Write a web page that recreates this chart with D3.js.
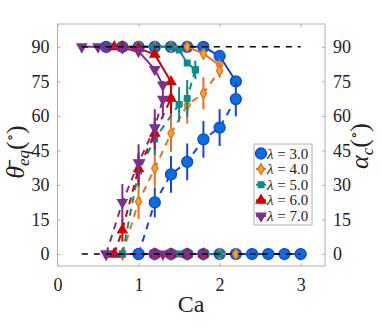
<!DOCTYPE html>
<html>
<head>
  <meta charset="utf-8" />
  <style>
    body { margin: 0; background: #ffffff; }
    svg text { font-family: 'Liberation Serif', 'DejaVu Serif', serif; fill: #222; }
  </style>
  <script src="https://cdnjs.cloudflare.com/ajax/libs/d3/7.8.5/d3.min.js"></script>
</head>
<body>
<div id="chart"></div>
<script>
// lambda values
var lambdas = ["3.0", "4.0", "5.0", "6.0", "7.0"];

// upper theta_eq branch (solid)
var upCa = [
  [0.6, 0.8, 1.0, 1.2, 1.4, 1.6, 1.8, 2.0, 2.2],
  [0.8, 1.0, 1.2, 1.4, 1.6, 1.8, 2.0],
  [0.8, 1.0, 1.2, 1.4, 1.5, 1.6, 1.7],
  [0.7, 0.8, 1.0, 1.2, 1.4],
  [0.3, 0.5, 0.6, 0.8, 1.0, 1.2, 1.3]
];
var upTheta = [
  [90, 90, 90, 90, 90, 90, 90, 86, 75],
  [90, 90, 90, 90, 90, 87, 82],
  [90, 90, 90, 90, 88.6, 83, 80],
  [90, 90, 89.3, 86.7, 74.8],
  [90, 90, 90, 89.5, 88, 80.2, 73.4]
];

// lower theta_eq branch (solid, at zero)
var lowCa = [
  [1.0, 1.2, 1.4, 1.6, 1.8, 2.0, 2.2, 2.4, 2.6, 2.8, 3.0],
  [0.8, 1.2, 1.4, 1.6, 1.8, 2.0, 2.2],
  [0.8, 1.2, 1.4, 1.5, 1.6, 1.8, 2.0],
  [0.7, 1.2, 1.4, 1.6, 1.8],
  [0.6, 1.2, 1.3, 1.4, 1.6, 1.8]
];

// alpha_c (dashed) with error
var acCa = [
  [1.0, 1.2, 1.4, 1.6, 1.8, 2.0, 2.2],
  [0.8, 1.0, 1.2, 1.4, 1.6, 1.8, 2.0],
  [0.8, 1.0, 1.2, 1.5, 1.6, 1.7],
  [0.7, 0.8, 1.0, 1.2, 1.4],
  [0.6, 0.8, 1.0, 1.2, 1.3]
];
var acAlpha = [
  [0, 22.4, 34.6, 40, 49.8, 54.9, 67.3],
  [0, 22.7, 37.2, 52.4, 64.7, 69.8, 79.6],
  [0, 36, 50, 65, 67.6, 80],
  [0, 10.4, 37, 52.4, 67.6],
  [0, 22.4, 39.7, 54.9, 67.2]
];
var acErr = [
  [0, 6.5, 8, 8, 8, 8, 7.5],
  [0, 7.5, 8, 8, 8, 7, 3],
  [0, 7, 7, 7.5, 8, 4],
  [0, 5, 7, 7, 7],
  [0, 8, 8, 8, 8]
];

var xTicks = [0, 1, 2, 3];
var yTicks = [0, 15, 30, 45, 60, 75, 90];

var lineColor = ["#1346d6", "#e8701e", "#0a8c8c", "#d40000", "#7e2f8e"];
var fillColor = ["#0a6fd8", "#f2a623", "#0a8c8c", "#d40000", "#7e2f8e"];
var shapes = [d3.symbolCircle, d3.symbolDiamond, d3.symbolSquare, d3.symbolTriangle, d3.symbolTriangle];
var sizes = [95, 34, 32, 40, 40];
var rotations = [0, 0, 0, 0, 180];

var W = 382, H = 327;
var pL = 57.5, pR = 325, pT = 24, pB = 266;

var svg = d3.select("#chart").append("svg").attr("width", W).attr("height", H);

var x = d3.scaleLinear().domain([0, 3.3]).range([pL, pR]);
var y = d3.scaleLinear().domain([-5.2, 99.9]).range([pB, pT]);

// axes box
svg.append("rect").attr("x", pL).attr("y", pT).attr("width", pR - pL).attr("height", pB - pT)
  .attr("fill", "none").attr("stroke", "#b0b0b0").attr("stroke-width", 1);

var axisCol = "#b0b0b0";
function styleAxis(g) {
  g.select(".domain").remove();
  g.selectAll(".tick line").attr("stroke", axisCol);
  g.selectAll(".tick text").style("font-size", "18px").attr("fill", "#222");
}
svg.append("g").attr("transform", "translate(0," + pB + ")")
  .call(d3.axisBottom(x).tickValues(xTicks).tickSize(-3).tickPadding(12).tickFormat(d3.format("d"))).call(styleAxis);
svg.append("g").attr("transform", "translate(0," + pT + ")")
  .call(d3.axisTop(x).tickValues(xTicks).tickSize(-3).tickFormat("")).call(styleAxis);
svg.append("g").attr("transform", "translate(" + pL + ",0)")
  .call(d3.axisLeft(y).tickValues(yTicks).tickSize(-3).tickPadding(8)).call(styleAxis);
svg.append("g").attr("transform", "translate(" + pR + ",0)")
  .call(d3.axisRight(y).tickValues(yTicks).tickSize(-3).tickPadding(8)).call(styleAxis);

var line = d3.line().x(function (d) { return x(d[0]); }).y(function (d) { return y(d[1]); });

function markers(g, pts, i) {
  g.selectAll(null).data(pts).enter().append("path")
    .attr("d", d3.symbol().type(shapes[i]).size(sizes[i]))
    .attr("transform", function (d) { return "translate(" + x(d[0]) + "," + y(d[1]) + ") rotate(" + rotations[i] + ")"; })
    .attr("fill", fillColor[i]).attr("stroke", lineColor[i]).attr("stroke-width", 1.3);
}

lambdas.forEach(function (lam, i) {
  var g = svg.append("g");
  var up = upCa[i].map(function (c, k) { return [c, upTheta[i][k]]; });
  var low = lowCa[i].map(function (c) { return [c, 0]; });
  var ac = acCa[i].map(function (c, k) { return [c, acAlpha[i][k], acErr[i][k]]; });

  g.append("path").attr("d", line(up)).attr("fill", "none").attr("stroke", lineColor[i]).attr("stroke-width", 2);
  markers(g, up, i);
  g.append("path").attr("d", line(low)).attr("fill", "none").attr("stroke", lineColor[i]).attr("stroke-width", 2);
  markers(g, low, i);
  g.append("path").attr("d", line(ac)).attr("fill", "none").attr("stroke", lineColor[i])
    .attr("stroke-width", 2).attr("stroke-dasharray", "7,6");
  g.selectAll(null).data(ac.filter(function (d) { return d[2] > 0; })).enter().append("line")
    .attr("x1", function (d) { return x(d[0]); }).attr("x2", function (d) { return x(d[0]); })
    .attr("y1", function (d) { return y(d[1] - d[2]); }).attr("y2", function (d) { return y(d[1] + d[2]); })
    .attr("stroke", lineColor[i]).attr("stroke-width", 2);
  markers(g, ac, i);
});

// reference dashed lines
[0, 90].forEach(function (v) {
  svg.append("path").attr("d", line([[0.3, v], [3.0, v]])).attr("fill", "none")
    .attr("stroke", "#000").attr("stroke-width", 1.5).attr("stroke-dasharray", "6,6");
});

// legend
var lg = svg.append("g");
lg.append("rect").attr("x", 254).attr("y", 144).attr("width", 58).attr("height", 81)
  .attr("fill", "#fff").attr("stroke", "#b0b0b0").attr("stroke-width", 1);
lambdas.forEach(function (lam, i) {
  var ly = 153.5 + i * 15.6;
  lg.append("line").attr("x1", 256).attr("x2", 266).attr("y1", ly).attr("y2", ly)
    .attr("stroke", lineColor[i]).attr("stroke-width", 2);
  lg.append("path").attr("d", d3.symbol().type(shapes[i]).size(sizes[i]))
    .attr("transform", "translate(261," + ly + ") rotate(" + rotations[i] + ")")
    .attr("fill", fillColor[i]).attr("stroke", lineColor[i]).attr("stroke-width", 1.3);
  var t = lg.append("text").attr("x", 267).attr("y", ly + 5).style("font-size", "15px");
  t.append("tspan").style("font-style", "italic").text("λ");
  t.append("tspan").text(" = " + lam);
});

// axis labels
svg.append("text").attr("x", 191).attr("y", 312).attr("text-anchor", "middle").style("font-size", "24px").text("Ca");

var yl = svg.append("text").attr("transform", "translate(24,152) rotate(-90)").attr("text-anchor", "middle").style("font-size", "26px");
yl.append("tspan").style("font-style", "italic").text("θ\u0304");
yl.append("tspan").style("font-style", "italic").style("font-size", "17px").attr("dy", 5).text("eq");
yl.append("tspan").attr("dy", -5).text("(");
yl.append("tspan").style("font-size", "15px").attr("dy", -9).text("∘");
yl.append("tspan").attr("dy", 9).text(")");

var al = svg.append("text").attr("transform", "translate(368,146) rotate(-90)").attr("text-anchor", "middle").style("font-size", "26px");
al.append("tspan").style("font-style", "italic").text("α");
al.append("tspan").style("font-style", "italic").style("font-size", "17px").attr("dy", 5).text("c");
al.append("tspan").attr("dy", -5).text("(");
al.append("tspan").style("font-size", "15px").attr("dy", -9).text("∘");
al.append("tspan").attr("dy", 9).text(")");
</script>
</body>
</html>
